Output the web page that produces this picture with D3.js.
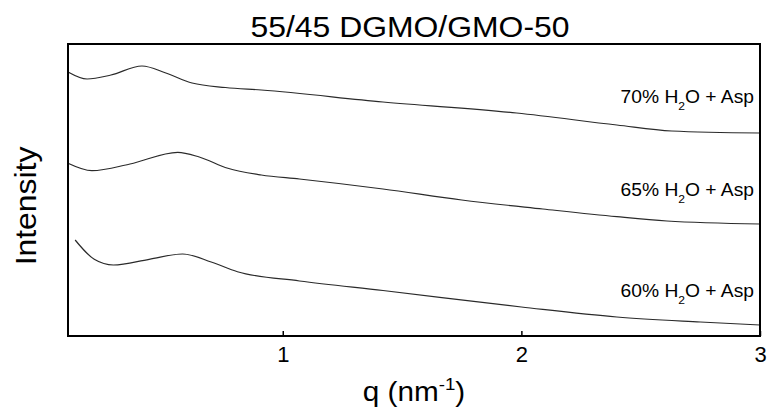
<!DOCTYPE html>
<html>
<head>
<meta charset="utf-8">
<script src="https://cdn.jsdelivr.net/npm/d3@7"></script>
<style>
  body { margin: 0; background: #fff; }
  text { font-family: Arial, "Liberation Sans", sans-serif; fill: #000; }
</style>
</head>
<body>
<div id="chart"></div>
<script>
// data (intensity in arbitrary units, curves are offset)
const q70 = [0.10, 0.18, 0.28, 0.41, 0.51, 0.62, 0.76, 0.91, 1.42, 1.98, 2.40, 2.63, 3.00];
const i70 = [264, 257, 261, 270, 263, 253, 248.5, 246, 234, 223, 211, 205, 203];

const q65 = [0.10, 0.20, 0.36, 0.56, 0.65, 0.77, 0.91, 1.07, 1.42, 1.75, 2.09, 2.40, 2.61, 3.00];
const i65 = [172.7, 165.3, 172, 183.7, 179, 167.7, 161, 157, 147, 136, 127, 119.3, 115, 112];

const q60 = [0.13, 0.21, 0.29, 0.44, 0.58, 0.70, 0.81, 1.07, 1.42, 2.00, 2.40, 2.75, 3.00];
const i60 = [96, 76.7, 71, 76.7, 82, 74, 64.3, 55, 45.5, 29, 19, 14, 11];

const seriesNames = ["70%", "65%", "60%"];
const labelY = [233, 140.5, 39.5];   // where each label sits, in intensity units
const xTicks = [1, 2, 3];
const xDomain = [0.1, 3];
const yDomain = [0, 292];

const W = 768, H = 415;
const margin = { top: 44, right: 8, bottom: 79, left: 68 };
const stretch = 1.1; // the source font is a bit wider than Arial

const svg = d3.select("#chart").append("svg")
  .attr("width", W).attr("height", H);

const x = d3.scaleLinear().domain(xDomain).range([margin.left, W - margin.right]);
const y = d3.scaleLinear().domain(yDomain).range([H - margin.bottom, margin.top]);

const line = d3.line()
  .x(d => x(d[0]))
  .y(d => y(d[1]))
  .curve(d3.curveMonotoneX);

const series = [
  d3.zip(q70, i70),
  d3.zip(q65, i65),
  d3.zip(q60, i60)
];

svg.selectAll("path.curve")
  .data(series)
  .join("path")
  .attr("class", "curve")
  .attr("d", line)
  .attr("fill", "none")
  .attr("stroke", "#2a2a2a")
  .attr("stroke-width", 1.2);

// x axis, ticks pointing inward
const xAxis = svg.append("g")
  .attr("transform", `translate(0,${H - margin.bottom})`)
  .call(d3.axisBottom(x).tickValues(xTicks).tickFormat(d3.format("d"))
    .tickSizeInner(-5).tickSizeOuter(0).tickPadding(10));
xAxis.select(".domain").remove();
xAxis.selectAll(".tick line").attr("stroke", "#000").attr("stroke-width", 1.5);
xAxis.selectAll(".tick text")
  .attr("font-size", 22)
  .attr("font-family", "Arial, 'Liberation Sans', sans-serif")
  .attr("fill", "#000");

// frame
svg.append("rect")
  .attr("x", x(xDomain[0])).attr("y", y(yDomain[1]))
  .attr("width", x(xDomain[1]) - x(xDomain[0]))
  .attr("height", y(yDomain[0]) - y(yDomain[1]))
  .attr("fill", "none").attr("stroke", "#000").attr("stroke-width", 2);

// curve labels
seriesNames.forEach((name, i) => {
  const t = svg.append("text")
    .attr("transform", `translate(${x(3) - 6},${y(labelY[i])}) scale(${stretch},1)`)
    .attr("text-anchor", "end")
    .attr("font-size", 17.5);
  t.append("tspan").text(name + " H");
  t.append("tspan").attr("font-size", 11).attr("dy", 7).text("2");
  t.append("tspan").attr("dy", -7).text("O + Asp");
});

// title
svg.append("text")
  .attr("transform", `translate(${(x(xDomain[0]) + x(xDomain[1])) / 2 - 4},37) scale(${stretch},1)`)
  .attr("text-anchor", "middle")
  .attr("font-size", 29)
  .text("55/45 DGMO/GMO-50");

// y label
svg.append("text")
  .attr("transform", `translate(36,${(y(yDomain[0]) + y(yDomain[1])) / 2 + 16}) rotate(-90) scale(${stretch},1)`)
  .attr("text-anchor", "middle")
  .attr("font-size", 29)
  .text("Intensity");

// x label
const xl = svg.append("text")
  .attr("transform", `translate(${(x(xDomain[0]) + x(xDomain[1])) / 2},401) scale(${stretch},1)`)
  .attr("text-anchor", "middle")
  .attr("font-size", 27);
xl.append("tspan").text("q (nm");
xl.append("tspan").attr("font-size", 17).attr("dy", -11).text("-1");
xl.append("tspan").attr("dy", 11).text(")");
</script>
</body>
</html>
